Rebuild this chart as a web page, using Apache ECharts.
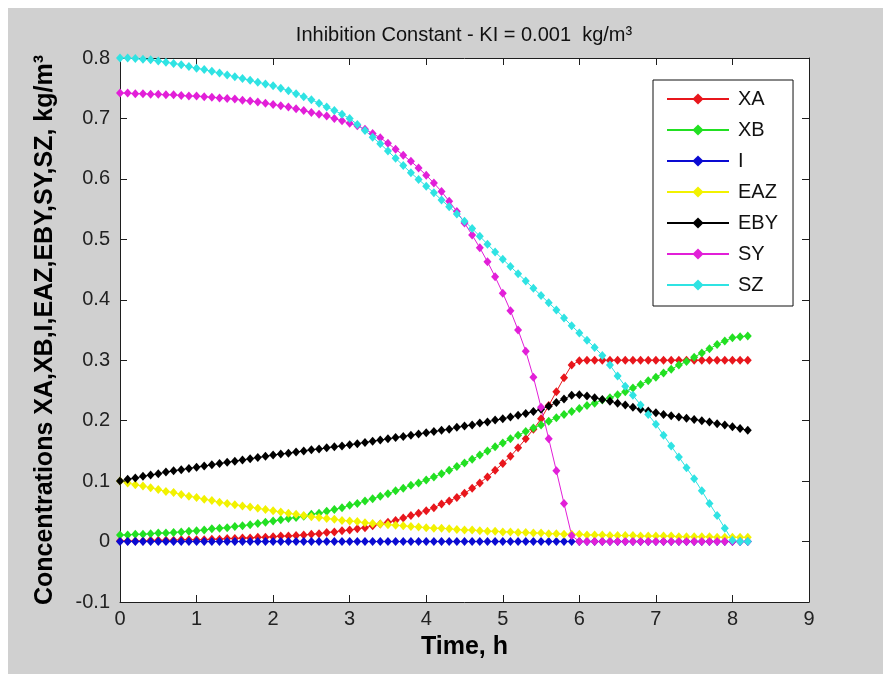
<!DOCTYPE html>
<html>
<head>
<meta charset="utf-8">
<script src="https://cdn.jsdelivr.net/npm/echarts@6/dist/echarts.min.js"></script>
<style>
  html, body { margin: 0; padding: 0; background: #ffffff; }
  #chart { position: absolute; left: 8px; top: 8px; width: 875px; height: 666px; background: #d0d0d0; }
</style>
</head>
<body>
<div id="chart"></div>
<script>
// Time points (h)
const times = [
  0.0,0.1,0.2,0.3,0.4,0.5,0.6,0.7,0.8,0.9,
  1.0,1.1,1.2,1.3,1.4,1.5,1.6,1.7,1.8,1.9,
  2.0,2.1,2.2,2.3,2.4,2.5,2.6,2.7,2.8,2.9,
  3.0,3.1,3.2,3.3,3.4,3.5,3.6,3.7,3.8,3.9,
  4.0,4.1,4.2,4.3,4.4,4.5,4.6,4.7,4.8,4.9,
  5.0,5.1,5.2,5.3,5.4,5.5,5.6,5.7,5.8,5.9,
  6.0,6.1,6.2,6.3,6.4,6.5,6.6,6.7,6.8,6.9,
  7.0,7.1,7.2,7.3,7.4,7.5,7.6,7.7,7.8,7.9,
  8.0,8.1,8.2
];

const XA = [
  0.001,0.001,0.001,0.001,0.002,0.002,0.002,0.002,0.003,0.003,
  0.003,0.003,0.004,0.004,0.005,0.005,0.006,0.006,0.007,0.007,
  0.008,0.009,0.009,0.010,0.011,0.012,0.013,0.015,0.016,0.018,
  0.019,0.021,0.023,0.026,0.029,0.032,0.035,0.039,0.043,0.047,
  0.051,0.056,0.062,0.067,0.073,0.080,0.088,0.097,0.107,0.118,
  0.129,0.141,0.155,0.170,0.186,0.203,0.225,0.248,0.271,0.292,
  0.299,0.300,0.300,0.300,0.300,0.300,0.300,0.300,0.300,0.300,
  0.300,0.300,0.300,0.300,0.300,0.300,0.300,0.300,0.300,0.300,
  0.300,0.300,0.300
];

const XB = [
  0.011,0.011,0.012,0.012,0.013,0.014,0.014,0.015,0.016,0.017,
  0.018,0.019,0.021,0.022,0.023,0.025,0.026,0.028,0.030,0.032,
  0.034,0.036,0.038,0.040,0.042,0.045,0.047,0.050,0.053,0.056,
  0.060,0.063,0.067,0.071,0.075,0.079,0.084,0.088,0.093,0.097,
  0.102,0.107,0.112,0.118,0.124,0.130,0.136,0.143,0.150,0.157,
  0.163,0.170,0.176,0.182,0.188,0.193,0.199,0.205,0.210,0.215,
  0.220,0.225,0.229,0.234,0.238,0.243,0.248,0.254,0.260,0.266,
  0.272,0.279,0.285,0.292,0.298,0.305,0.312,0.319,0.326,0.332,
  0.337,0.339,0.340
];

const I = [
  0,0,0,0,0,0,0,0,0,0,
  0,0,0,0,0,0,0,0,0,0,
  0,0,0,0,0,0,0,0,0,0,
  0,0,0,0,0,0,0,0,0,0,
  0,0,0,0,0,0,0,0,0,0,
  0,0,0,0,0,0,0,0,0,0,
  0,0,0,0,0,0,0,0,0,0,
  0,0,0,0,0,0,0,0,0,0,
  0,0,0
];

const EAZ = [
  0.100,0.097,0.094,0.092,0.089,0.086,0.083,0.081,0.078,0.075,
  0.073,0.070,0.068,0.065,0.063,0.061,0.059,0.057,0.055,0.053,
  0.051,0.049,0.047,0.045,0.043,0.041,0.040,0.038,0.037,0.035,
  0.034,0.033,0.031,0.030,0.029,0.028,0.027,0.026,0.025,0.024,
  0.023,0.022,0.022,0.021,0.020,0.019,0.019,0.018,0.017,0.017,
  0.016,0.016,0.015,0.015,0.014,0.014,0.013,0.013,0.012,0.012,
  0.012,0.011,0.011,0.011,0.010,0.010,0.010,0.010,0.009,0.009,
  0.009,0.009,0.009,0.008,0.008,0.008,0.008,0.008,0.007,0.007,
  0.007,0.007,0.007
];

const EBY = [
  0.100,0.103,0.105,0.108,0.110,0.112,0.115,0.117,0.119,0.121,
  0.123,0.125,0.127,0.129,0.131,0.133,0.135,0.137,0.139,0.141,
  0.143,0.145,0.146,0.148,0.150,0.152,0.153,0.155,0.157,0.158,
  0.160,0.162,0.164,0.166,0.168,0.170,0.172,0.174,0.176,0.178,
  0.180,0.182,0.184,0.186,0.189,0.191,0.193,0.196,0.198,0.201,
  0.203,0.206,0.209,0.212,0.215,0.219,0.224,0.230,0.236,0.242,
  0.243,0.241,0.238,0.235,0.232,0.229,0.226,0.222,0.219,0.216,
  0.213,0.210,0.208,0.206,0.204,0.202,0.200,0.198,0.195,0.193,
  0.190,0.187,0.184
];

const SY = [
  0.742,0.742,0.741,0.741,0.740,0.740,0.739,0.739,0.738,0.737,
  0.737,0.736,0.735,0.734,0.733,0.732,0.730,0.729,0.727,0.725,
  0.723,0.721,0.719,0.716,0.713,0.710,0.707,0.704,0.700,0.696,
  0.692,0.688,0.682,0.675,0.668,0.659,0.649,0.639,0.629,0.618,
  0.606,0.593,0.579,0.563,0.546,0.527,0.507,0.486,0.463,0.438,
  0.411,0.382,0.350,0.315,0.272,0.222,0.170,0.117,0.063,0.010,
  0,0,0,0,0,0,0,0,0,0,
  0,0,0,0,0,0,0,0,0,0,
  0,0,0
];

const SZ = [
  0.800,0.800,0.799,0.798,0.797,0.795,0.793,0.791,0.789,0.786,
  0.783,0.781,0.778,0.775,0.772,0.769,0.766,0.763,0.760,0.757,
  0.754,0.750,0.746,0.741,0.736,0.731,0.725,0.719,0.713,0.707,
  0.700,0.690,0.680,0.669,0.658,0.646,0.634,0.622,0.610,0.599,
  0.588,0.577,0.565,0.554,0.542,0.530,0.518,0.505,0.492,0.479,
  0.467,0.455,0.443,0.431,0.419,0.407,0.395,0.383,0.370,0.357,
  0.345,0.333,0.321,0.308,0.292,0.274,0.257,0.242,0.226,0.210,
  0.194,0.176,0.158,0.140,0.122,0.104,0.084,0.063,0.043,0.022,
  0.002,0.000,0.000
];

const seriesNames = ['XA', 'XB', 'I', 'EAZ', 'EBY', 'SY', 'SZ'];
const seriesValues = [XA, XB, I, EAZ, EBY, SY, SZ];
const seriesColors = ['#e8161c', '#22e022', '#0a0ad2', '#f2f200', '#000000', '#e21fd8', '#2fe3e3'];

const titleText = 'Inhibition Constant - KI = 0.001  kg/m\u00b3';
const xName = 'Time, h';
const yName = 'Concentrations XA,XB,I,EAZ,EBY,SY,SZ, kg/m\u00b3';

const FONT = "'Liberation Sans', Arial, Helvetica, sans-serif";
const axisColor = '#1e1e1e';

const chart = echarts.init(document.getElementById('chart'), null, { renderer: 'canvas' });

const commonAxis = {
  axisLine: { show: true, onZero: false, lineStyle: { color: axisColor, width: 1 } },
  axisTick: { show: true, inside: true, length: 7, lineStyle: { color: axisColor } },
  splitLine: { show: false }
};

const option = {
  animation: false,
  backgroundColor: 'transparent',
  graphic: [
    {
      type: 'text',
      x: 456,
      y: 27,
      style: {
        text: titleText,
        font: '20px ' + FONT,
        fill: '#111',
        textAlign: 'center',
        textVerticalAlign: 'middle'
      }
    }
  ],
  grid: {
    left: 112, top: 50, right: 74, bottom: 72,
    show: true, backgroundColor: '#ffffff', borderWidth: 0
  },
  legend: {
    data: seriesNames,
    orient: 'vertical',
    left: 645,
    top: 72,
    padding: [9, 15, 11, 13],
    itemWidth: 62,
    itemHeight: 14,
    itemGap: 11,
    backgroundColor: '#ffffff',
    borderColor: '#111',
    borderWidth: 1,
    borderRadius: 0,
    selectedMode: false,
    textStyle: { fontFamily: FONT, fontSize: 20, color: '#111', padding: [0, 0, 0, 4] }
  },
  xAxis: [
    Object.assign({}, commonAxis, {
      type: 'value', min: 0, max: 9, interval: 1, position: 'bottom',
      name: xName, nameLocation: 'middle', nameGap: 33,
      nameTextStyle: { fontFamily: FONT, fontSize: 25, fontWeight: 'bold', color: '#000' },
      axisLabel: { show: true, margin: 7, fontFamily: FONT, fontSize: 20, color: '#222' }
    }),
    Object.assign({}, commonAxis, {
      type: 'value', min: 0, max: 9, interval: 1, position: 'top',
      axisLabel: { show: false }
    })
  ],
  yAxis: [
    Object.assign({}, commonAxis, {
      type: 'value', min: -0.1, max: 0.8, interval: 0.1, position: 'left',
      name: yName, nameLocation: 'middle', nameGap: 62,
      nameTextStyle: { fontFamily: FONT, fontSize: 25, fontWeight: 'bold', color: '#000' },
      axisLabel: { show: true, margin: 10, fontFamily: FONT, fontSize: 20, color: '#222' }
    }),
    Object.assign({}, commonAxis, {
      type: 'value', min: -0.1, max: 0.8, interval: 0.1, position: 'right',
      axisLabel: { show: false }
    })
  ],
  series: seriesNames.map((name, k) => ({
    name: name,
    type: 'line',
    xAxisIndex: 0,
    yAxisIndex: 0,
    data: times.map((t, i) => [t, seriesValues[k][i]]),
    symbol: 'diamond',
    symbolSize: [8, 9],
    showSymbol: true,
    showAllSymbol: true,
    clip: true,
    lineStyle: { color: seriesColors[k], width: 1 },
    itemStyle: { color: seriesColors[k] },
    emphasis: { disabled: true },
    silent: true
  }))
};

chart.setOption(option);
</script>
</body>
</html>
